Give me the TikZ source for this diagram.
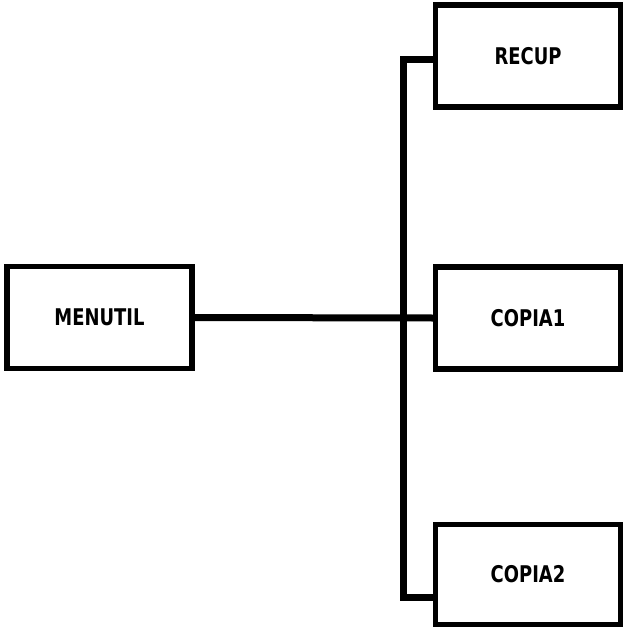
\documentclass[tikz,border=0pt]{standalone}
\usepackage{fontspec}
\setmainfont{DejaVu Sans}[FakeStretch=0.78]
\usetikzlibrary{positioning}

\tikzset{
  module/.style={draw, line width=5.5pt, minimum width=185pt, minimum height=102pt,
    inner sep=0pt, font=\fontsize{23}{26}\selectfont\bfseries},
  bus/.style={line width=7pt}
}

\begin{document}
\begin{tikzpicture}[x=1pt,y=-1pt]
    \useasboundingbox (0,0) rectangle (626,631);

    % Modules
    \node[module] (menutil) at (99.5,317.5) {MENUTIL};
    \node[module] (recup) at (528,56) {RECUP};
    \node[module] (copia1) at (528,318) {COPIA1};
    \node[module, minimum height=100pt] (copia2) at (528,574.5) {COPIA2};

    % Bus
    \coordinate (bustop) at (403,60);
    \coordinate (busbot) at (403,597);
    \draw[bus] (bustop -| recup.west) -- (bustop) -- (busbot) -- (busbot -| copia2.west);
    \draw[bus] (menutil.east) -- (copia1.west);
\end{tikzpicture}
\end{document}
